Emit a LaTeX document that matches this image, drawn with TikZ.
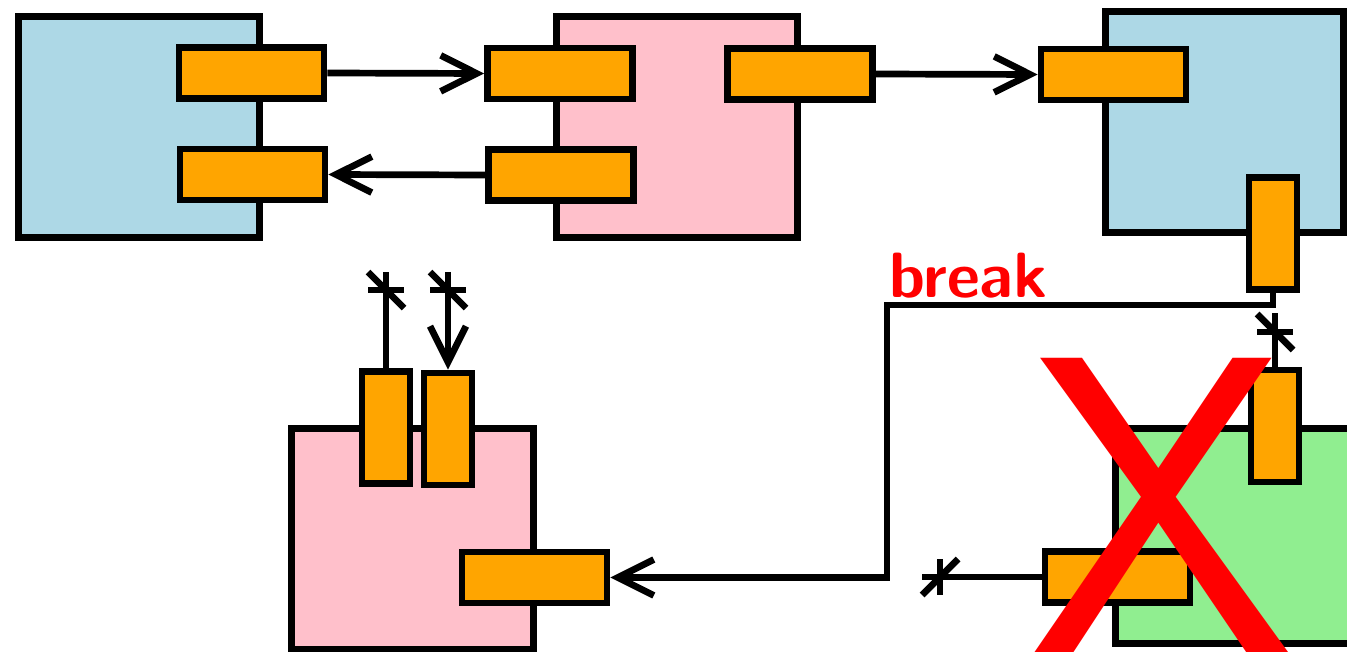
\documentclass[tikz,border=0pt]{standalone}
\usepackage{fontspec}
\usetikzlibrary{arrows.meta}
\definecolor{blk}{RGB}{0,0,0}
\definecolor{lblue}{RGB}{173,216,230}
\definecolor{lpink}{RGB}{255,192,203}
\definecolor{lgreen}{RGB}{144,238,144}
\definecolor{porange}{RGB}{255,165,0}
\tikzset{
  block/.style={draw=blk, line width=6.7pt, rectangle, inner sep=0pt, minimum width=241pt, minimum height=221pt},
  hport/.style={draw=blk, fill=porange, line width=6.7pt, rectangle, inner sep=0pt, minimum width=145pt, minimum height=51pt},
  vport/.style={draw=blk, fill=porange, line width=6.7pt, rectangle, inner sep=0pt, minimum width=48pt, minimum height=112pt},
  wire/.style={draw=blk, line width=6.7pt},
  arr/.style={wire, -{Straight Barb[length=36pt,width=36pt]}},
  brkv/.pic={\draw[wire] (-18,0) -- (18,0); \draw[wire] (-18,-18) -- (18,18);},
  brkh/.pic={\draw[wire] (0,-18) -- (0,18); \draw[wire] (-18,18) -- (18,-18);}
}
\begin{document}
\begin{tikzpicture}[x=1pt,y=-1pt]
\useasboundingbox (0,0) rectangle (1347,652);
% blocks
\node[block, fill=lblue] (b1) at (139,127) {};
\node[block, fill=lpink] (b2) at (677,127) {};
\node[block, fill=lblue, minimum width=238pt] (b3) at (1224.5,122) {};
\node[block, fill=lpink, minimum width=242pt] (b4) at (412.5,539) {};
\node[block, fill=lgreen, minimum height=215pt] (b5) at (1236,536) {};
% ports
\node[hport] (p1) at (251.5,73) {};
\node[hport] (p2) at (252.5,174.5) {};
\node[hport] (p3) at (560,73.5) {};
\node[hport] (p4) at (800,74) {};
\node[hport] (p5) at (561,175) {};
\node[hport] (p6) at (1113.5,74.5) {};
\node[vport] (p7) at (1273,233.5) {};
\node[vport] (p8) at (386,427.5) {};
\node[vport] (p9) at (448,429) {};
\node[hport] (p10) at (534.5,577.5) {};
\node[vport] (p11) at (1275,426) {};
\node[hport] (p12) at (1117.5,577) {};
% connectors
\draw[arr] (p1.east) -- (p3.west);
\draw[arr] (p5.west) -- (p2.east);
\draw[arr] (p4.east) -- (p6.west);
\coordinate (c1) at (887,305);
\draw[arr] (p7.south) |- (c1) |- (p10.east);
% broken ends
\coordinate (e8) at (386,272);
\coordinate (e9) at (448,272);
\coordinate (e11) at (1275,313);
\coordinate (e12) at (922,577);
\draw[wire] (p8.north) -- (e8);
\pic at (386,290) {brkv};
\draw[arr] (e9) -- (p9.north);
\pic at (448,290) {brkv};
\draw[wire] (p11.north) -- (e11);
\pic at (1275,332) {brkv};
\draw[wire] (p12.west) -- (e12);
\pic at (940,577) {brkh};
% labels
\node[anchor=base west, inner sep=0pt, text=red, font=\fontsize{64}{64}\selectfont\sffamily\bfseries] (lbl) at (889,298) {break};
\node[anchor=base, inner sep=0pt, text=red, font=\fontsize{424}{424}\selectfont\sffamily] (xx) at (1162,652) {X};
\end{tikzpicture}
\end{document}
